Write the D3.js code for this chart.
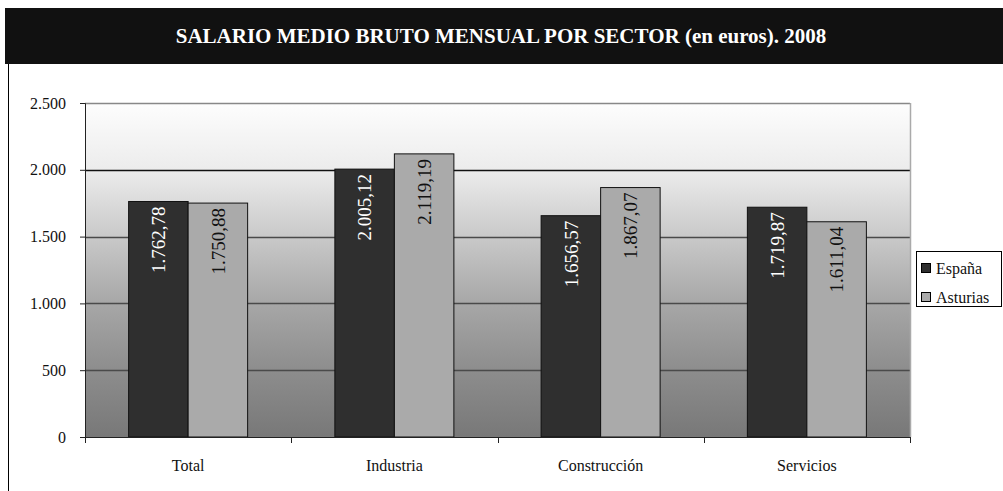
<!DOCTYPE html>
<html>
<head>
<meta charset="utf-8">
<script src="https://cdn.jsdelivr.net/npm/d3@7"></script>
<style>
  body { margin: 0; background: #fff; }
</style>
</head>
<body>
<div id="chart"></div>
<script>
// chart data
const TITLE = 'SALARIO MEDIO BRUTO MENSUAL POR SECTOR (en euros). 2008';
const categories = ['Total', 'Industria', 'Construcción', 'Servicios'];
const seriesNames = ['España', 'Asturias'];
const espana = [1762.78, 2005.12, 1656.57, 1719.87];
const asturias = [1750.88, 2119.19, 1867.07, 1611.04];
const yTicks = [0, 500, 1000, 1500, 2000, 2500];

const FONT = '"Liberation Serif", "Times New Roman", Times, serif';
const COLORS = { 'España': '#2f2f2f', 'Asturias': '#aaaaaa' };
const LABEL_COLORS = { 'España': '#ffffff', 'Asturias': '#111111' };

const W = 1003, H = 491;
const PLOT = { left: 85, right: 910, top: 103, bottom: 437 };

const es = d3.formatLocale({ decimal: ',', thousands: '.', grouping: [3], currency: ['', '€'] });
const fmtAxis = es.format(',.0f');
const fmtVal = es.format(',.2f');

const rows = categories.map((c, i) => ({ cat: c, 'España': espana[i], 'Asturias': asturias[i] }));

const svg = d3.select('#chart').append('svg')
    .attr('width', W)
    .attr('height', H)
    .attr('font-family', FONT);

// title bar
svg.append('rect')
    .attr('x', 5).attr('y', 8)
    .attr('width', W - 5).attr('height', 56)
    .attr('fill', '#111');

svg.append('text')
    .attr('x', 501).attr('y', 43)
    .attr('text-anchor', 'middle')
    .attr('fill', '#fff')
    .attr('font-family', FONT)
    .attr('font-weight', 'bold')
    .attr('font-size', 21)
    .text(TITLE);

// left frame line
svg.append('line')
    .attr('x1', 8.5).attr('x2', 8.5)
    .attr('y1', 64).attr('y2', H)
    .attr('stroke', '#000');

// background gradient for plot area
const defs = svg.append('defs');
const grad = defs.append('linearGradient')
    .attr('id', 'bg').attr('x1', 0).attr('y1', 0).attr('x2', 0).attr('y2', 1);
[['0%', '#fdfdfd'], ['20%', '#ececec'], ['40%', '#c9c9c9'], ['60%', '#a7a7a7'], ['80%', '#8d8d8d'], ['100%', '#787878']]
    .forEach(s => grad.append('stop').attr('offset', s[0]).attr('stop-color', s[1]));

svg.append('rect')
    .attr('x', PLOT.left).attr('y', PLOT.top)
    .attr('width', PLOT.right - PLOT.left)
    .attr('height', PLOT.bottom - PLOT.top)
    .attr('fill', 'url(#bg)');

// scales
const x = d3.scaleBand()
    .domain(categories)
    .range([PLOT.left, PLOT.right]);

const x1 = d3.scaleBand()
    .domain(seriesNames)
    .range([0, x.bandwidth()])
    .paddingOuter(0.733);

const y = d3.scaleLinear()
    .domain([0, 2500])
    .range([PLOT.bottom, PLOT.top]);

// gridlines
svg.append('g')
    .selectAll('line')
    .data(yTicks.filter(t => t > 0 && t < 2500))
    .join('line')
    .attr('x1', PLOT.left).attr('x2', PLOT.right)
    .attr('y1', d => Math.round(y(d)) + 0.5)
    .attr('y2', d => Math.round(y(d)) + 0.5)
    .attr('stroke', d => d === 2000 ? '#111' : '#4a4a4a')
    .attr('stroke-width', 1.3);

// plot frame: top and right
svg.append('line')
    .attr('x1', PLOT.left).attr('x2', PLOT.right)
    .attr('y1', PLOT.top + 0.5).attr('y2', PLOT.top + 0.5)
    .attr('stroke', '#888').attr('stroke-width', 1.5);
svg.append('line')
    .attr('x1', PLOT.right + 0.5).attr('x2', PLOT.right + 0.5)
    .attr('y1', PLOT.top).attr('y2', PLOT.bottom)
    .attr('stroke', '#aaa').attr('stroke-width', 1.5);

// bars
const groups = svg.append('g')
    .selectAll('g')
    .data(rows)
    .join('g')
    .attr('transform', d => 'translate(' + x(d.cat) + ',0)');

groups.selectAll('rect')
    .data(d => seriesNames.map(s => ({ key: s, value: d[s] })))
    .join('rect')
    .attr('x', d => x1(d.key))
    .attr('y', d => y(d.value))
    .attr('width', x1.bandwidth())
    .attr('height', d => y(0) - y(d.value))
    .attr('fill', d => COLORS[d.key])
    .attr('stroke', '#111')
    .attr('stroke-width', 1);

// value labels, rotated
groups.selectAll('text')
    .data(d => seriesNames.map(s => ({ key: s, value: d[s] })))
    .join('text')
    .attr('transform', d => 'translate(' + (x1(d.key) + x1.bandwidth() / 2) + ',' + (y(d.value) + 5) + ') rotate(-90)')
    .attr('text-anchor', 'end')
    .attr('dy', '0.35em')
    .attr('font-family', FONT)
    .attr('font-size', 19)
    .attr('fill', d => LABEL_COLORS[d.key])
    .text(d => fmtVal(d.value));

// y axis
const yAxis = svg.append('g')
    .attr('transform', 'translate(' + PLOT.left + ',0)')
    .call(d3.axisLeft(y).tickValues(yTicks).tickFormat(fmtAxis).tickSize(5).tickPadding(14));
yAxis.attr('font-family', FONT);
yAxis.select('.domain').attr('stroke', '#222');
yAxis.selectAll('.tick line').attr('stroke', '#222');
yAxis.selectAll('.tick text')
    .attr('font-size', 16)
    .attr('fill', '#111');

// x axis: baseline, boundary ticks, category labels
svg.append('line')
    .attr('x1', PLOT.left).attr('x2', PLOT.right)
    .attr('y1', PLOT.bottom + 0.5).attr('y2', PLOT.bottom + 0.5)
    .attr('stroke', '#222');

const boundaries = categories.map(c => x(c)).concat([PLOT.right]);
svg.append('g')
    .selectAll('line')
    .data(boundaries)
    .join('line')
    .attr('x1', d => Math.round(d) + 0.5).attr('x2', d => Math.round(d) + 0.5)
    .attr('y1', PLOT.bottom).attr('y2', PLOT.bottom + 6)
    .attr('stroke', '#222');

svg.append('g')
    .selectAll('text')
    .data(categories)
    .join('text')
    .attr('x', d => x(d) + x.bandwidth() / 2)
    .attr('y', 471)
    .attr('text-anchor', 'middle')
    .attr('font-family', FONT)
    .attr('font-size', 16)
    .attr('fill', '#111')
    .text(d => d);

// legend
const legend = svg.append('g');
legend.append('rect')
    .attr('x', 916.5).attr('y', 251.5)
    .attr('width', 85).attr('height', 55)
    .attr('fill', '#fff')
    .attr('stroke', '#000');

const items = legend.selectAll('g.item')
    .data(seriesNames)
    .join('g')
    .attr('class', 'item')
    .attr('transform', (d, i) => 'translate(0,' + (268 + i * 29) + ')');

items.append('rect')
    .attr('x', 921.5).attr('y', -4.5)
    .attr('width', 9).attr('height', 9)
    .attr('fill', d => COLORS[d])
    .attr('stroke', '#000');

items.append('text')
    .attr('x', 936)
    .attr('dy', '0.35em')
    .attr('font-family', FONT)
    .attr('font-size', 16)
    .attr('fill', '#111')
    .text(d => d);
</script>
</body>
</html>
